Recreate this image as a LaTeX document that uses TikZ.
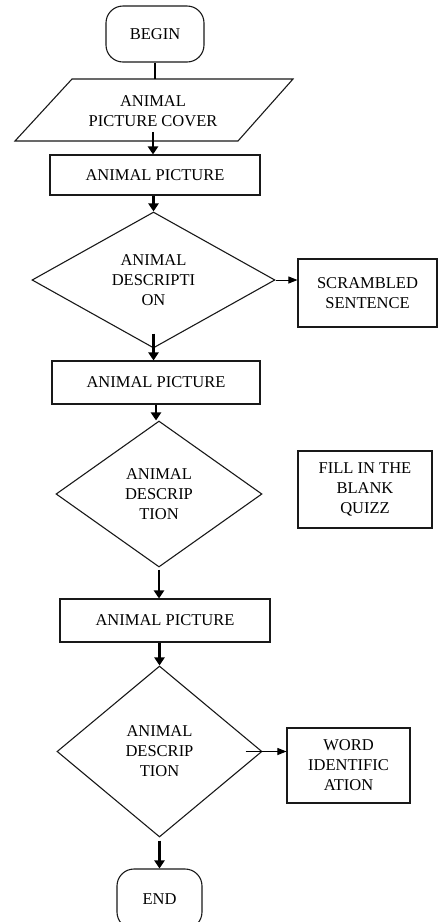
\documentclass[tikz,border=0pt]{standalone}
\usepackage{fontspec}
\setmainfont{Liberation Serif}
\usetikzlibrary{shapes.geometric,arrows.meta,calc}
\begin{document}
\begin{tikzpicture}[x=1pt,y=-1pt,
  every node/.style={font=\fontsize{16.5}{20}\selectfont, align=center, inner sep=0pt},
  outline/.style={draw=black!90, line width=1.1pt},
  boxnode/.style={outline, rectangle},
  termnode/.style={outline, rectangle, rounded corners=17pt},
  dianode/.style={outline, diamond, aspect=1.6},
  thickarrow/.style={line width=2.6pt, -{Triangle[length=8pt,width=10pt]}},
  thickline/.style={line width=2.6pt},
  thinarrow/.style={line width=0.9pt, -{Triangle[length=9pt,width=7pt]}}
]
\useasboundingbox (0,0) rectangle (437,922);

% begin
\node[termnode, minimum width=98pt, minimum height=56pt] (begin) at (155,34) {BEGIN};

% parallelogram
\draw[outline] (72,79) coordinate (ptl) -- (293,79) -- (238,141) -- (15,141) -- cycle;
\node (cover) at (153,111) {ANIMAL\\PICTURE COVER};

% first picture box and description
\node[boxnode, minimum width=210pt, minimum height=40pt] (box1) at (155,175) {ANIMAL PICTURE};
\node[dianode, minimum width=243pt, minimum height=136pt] (d1) at (153.5,280) {ANIMAL\\DESCRIPTI\\ON};
\node[boxnode, minimum width=139pt, minimum height=68pt] (scr) at (367.5,293) {SCRAMBLED\\SENTENCE};

% second
\node[boxnode, minimum width=208pt, minimum height=43pt] (box2) at (156,382.5) {ANIMAL PICTURE};
\node[dianode, minimum width=206pt, minimum height=146pt] (d2) at (159,494) {ANIMAL\\DESCRIP\\TION};
\node[boxnode, minimum width=134pt, minimum height=77pt] (fill) at (365,489.5) {FILL IN THE\\BLANK\\QUIZZ};

% third
\node[boxnode, minimum width=210pt, minimum height=43pt] (box3) at (165,620.5) {ANIMAL PICTURE};
\node[dianode, minimum width=205pt, minimum height=171pt] (d3) at (159.5,751.5) {ANIMAL\\DESCRIP\\TION};
\node[boxnode, minimum width=123pt, minimum height=75pt] (word) at (348.5,765.5) {WORD\\IDENTIFIC\\ATION};

% end
\node[termnode, minimum width=85pt, minimum height=60pt] (end) at (159.5,899) {END};

% connectors
\draw[thickline] (begin.south) -- (begin.south |- ptl);
\draw[thickarrow] ($(cover.south)+(0,5)$) -- (cover.south |- box1.north);
\draw[thickarrow] (d1.north |- box1.south) -- (d1.north);
\draw[thinarrow] (d1.east) -- (d1.east -| scr.west);
\draw[thickarrow] ($(d1.south)+(0,-15)$) -- (d1.south |- box2.north);
\draw[thickarrow] (box2.south) -- (box2.south |- d2.north);
\draw[thickarrow] ($(d2.south)+(0,2)$) -- (d2.south |- box3.north);
\draw[thickarrow] (d3.north |- box3.south) -- (d3.north);
\draw[thinarrow] ($(d3.east)+(-17,0)$) -- (d3.east -| word.west);
\draw[thickarrow] ($(d3.south)+(0,3)$) -- (d3.south |- end.north);
\end{tikzpicture}
\end{document}
